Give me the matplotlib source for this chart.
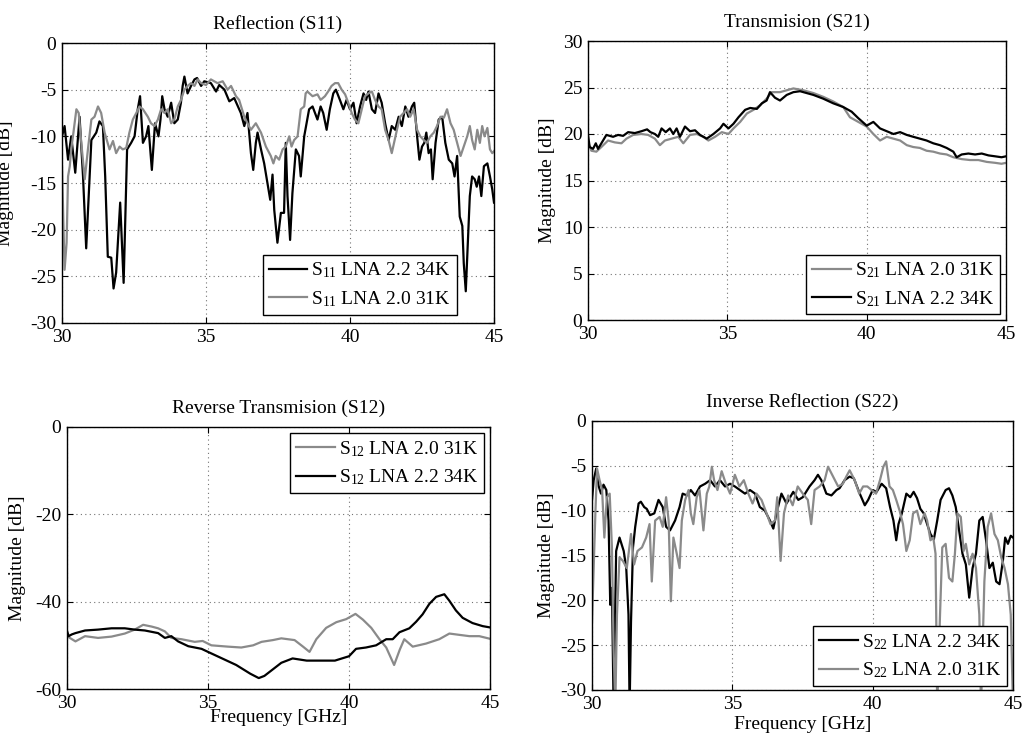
import numpy as np
import matplotlib
matplotlib.use('Agg')
import matplotlib.pyplot as plt

plt.rcParams['font.family'] = 'Liberation Serif'
plt.rcParams['mathtext.fontset'] = 'custom'
plt.rcParams['mathtext.rm'] = 'Liberation Serif'
plt.rcParams['mathtext.it'] = 'Liberation Serif:italic'
plt.rcParams['axes.unicode_minus'] = False
plt.rcParams['font.size'] = 14

# --- S11, LNA 2.2 34K (black) ---
s11_f_22 = [30.00, 30.09, 30.21, 30.32, 30.46, 30.61, 30.73, 30.84, 30.96, 31.02, 31.19, 31.30, 31.42, 31.50,
            31.59, 31.71, 31.79, 31.88, 31.94, 32.02, 32.14, 32.26, 32.40, 32.52, 32.63, 32.71, 32.81, 32.92,
            33.00, 33.12, 33.23, 33.35, 33.42, 33.48, 33.56, 33.67, 33.79, 33.90, 34.02, 34.13, 34.19, 34.25,
            34.36, 34.48, 34.60, 34.69, 34.83, 34.94, 35.17, 35.35, 35.46, 35.64, 35.81, 35.98, 36.21, 36.33,
            36.44, 36.56, 36.64, 36.73, 36.79, 36.91, 37.02, 37.23, 37.31, 37.37, 37.48, 37.60, 37.71, 37.77,
            37.83, 37.92, 38.00, 38.12, 38.23, 38.29, 38.41, 38.58, 38.70, 38.87, 38.98, 39.07, 39.19, 39.30,
            39.42, 39.51, 39.65, 39.77, 39.88, 40.00, 40.12, 40.23, 40.35, 40.47, 40.56, 40.64, 40.76, 40.87,
            40.99, 41.10, 41.22, 41.34, 41.45, 41.57, 41.69, 41.80, 41.92, 42.03, 42.15, 42.23, 42.33, 42.41,
            42.50, 42.58, 42.65, 42.73, 42.81, 42.87, 42.97, 43.08, 43.20, 43.31, 43.43, 43.55, 43.63, 43.72,
            43.81, 43.90, 43.95, 44.02, 44.09, 44.16, 44.24, 44.33, 44.40, 44.48, 44.56, 44.65, 44.77, 44.86,
            44.94, 45.00]
s11_db_22 = [-10.0, -8.9, -12.5, -10.0, -13.9, -7.9, -14.3, -22.0, -14.3, -10.4, -9.6, -8.4, -8.9, -14.3,
             -22.9, -23.0, -26.3, -24.6, -21.4, -17.1, -25.7, -11.4, -10.7, -10.0, -7.1, -5.7, -10.7, -10.0,
             -8.9, -13.6, -8.6, -10.0, -8.2, -5.7, -7.1, -7.9, -6.4, -8.6, -8.2, -6.4, -4.6, -3.6,
             -5.4, -4.6, -3.9, -3.75, -4.6, -4.1, -4.3, -5.2, -4.5, -5.0, -6.25, -5.9, -7.5, -8.9,
             -7.5, -11.8, -13.6, -10.7, -9.6, -11.4, -12.9, -16.8, -14.1, -17.9, -21.4, -18.2, -18.2, -10.7,
             -16.4, -21.1, -16.1, -11.4, -12.1, -14.3, -10.0, -7.1, -6.8, -8.2, -6.8, -7.5, -9.3, -7.1,
             -5.4, -5.0, -6.1, -7.1, -6.1, -7.1, -6.4, -8.6, -6.8, -5.4, -6.1, -5.2, -7.1, -7.5,
             -5.4, -6.4, -8.6, -10.4, -8.9, -9.3, -7.9, -8.9, -6.8, -7.9, -6.8, -6.4, -10.0, -12.5,
             -11.1, -10.7, -9.6, -11.8, -11.4, -14.6, -10.7, -8.2, -7.9, -10.7, -12.5, -12.9, -14.3, -12.1,
             -18.6, -19.6, -23.6, -26.6, -21.4, -16.4, -14.3, -14.6, -15.4, -14.3, -16.4, -13.2, -12.9, -14.3,
             -15.7, -17.1]

# --- S11, LNA 2.0 31K (gray) ---
s11_f_20 = [30.00, 30.09, 30.16, 30.21, 30.27, 30.32, 30.38, 30.50, 30.58, 30.67, 30.79, 30.90, 31.02, 31.13,
            31.25, 31.36, 31.48, 31.65, 31.77, 31.88, 32.00, 32.11, 32.23, 32.34, 32.46, 32.58, 32.69, 32.81,
            32.98, 33.09, 33.21, 33.33, 33.44, 33.56, 33.67, 33.79, 33.90, 34.02, 34.13, 34.25, 34.36, 34.48,
            34.60, 34.71, 34.83, 35.00, 35.17, 35.40, 35.58, 35.75, 35.87, 36.04, 36.15, 36.33, 36.44, 36.56,
            36.73, 36.91, 37.08, 37.25, 37.34, 37.42, 37.54, 37.66, 37.77, 37.89, 37.97, 38.06, 38.18, 38.29,
            38.41, 38.46, 38.52, 38.70, 38.87, 38.98, 39.13, 39.24, 39.36, 39.48, 39.59, 39.71, 39.83, 39.94,
            40.06, 40.17, 40.29, 40.41, 40.52, 40.64, 40.76, 40.87, 40.99, 41.10, 41.22, 41.34, 41.45, 41.53,
            41.63, 41.74, 41.86, 41.98, 42.09, 42.21, 42.33, 42.44, 42.56, 42.67, 42.79, 42.91, 43.02, 43.14,
            43.26, 43.37, 43.49, 43.60, 43.72, 43.84, 43.95, 44.07, 44.16, 44.24, 44.33, 44.42, 44.51, 44.59,
            44.67, 44.77, 44.86, 44.94, 45.00]
s11_db_20 = [-13.2, -24.3, -21.4, -14.3, -13.2, -11.4, -10.0, -7.1, -7.5, -10.7, -14.6, -11.4, -8.2, -7.9,
             -6.8, -7.5, -9.6, -11.4, -10.5, -11.8, -11.1, -11.4, -11.25, -9.6, -8.2, -7.5, -6.8, -7.1,
             -7.9, -8.6, -8.9, -8.2, -7.1, -7.5, -7.1, -8.6, -8.2, -6.8, -6.1, -5.0, -4.6, -4.3,
             -4.6, -3.9, -4.3, -4.5, -3.9, -4.3, -4.1, -5.0, -4.6, -5.7, -6.1, -7.9, -8.6, -9.3,
             -8.6, -9.6, -11.1, -12.1, -12.9, -12.1, -12.5, -11.4, -11.1, -10.0, -11.1, -10.4, -10.0, -7.1,
             -6.8, -5.4, -5.2, -5.7, -5.5, -6.1, -5.7, -5.2, -4.6, -4.3, -4.3, -5.0, -5.5, -6.4,
             -7.5, -8.2, -8.6, -7.1, -5.7, -5.4, -5.2, -6.1, -6.8, -7.1, -9.3, -10.4, -11.8, -10.7,
             -9.3, -7.9, -7.5, -7.1, -7.9, -7.1, -9.3, -10.0, -10.4, -10.7, -10.0, -9.6, -8.9, -7.9,
             -8.0, -7.1, -8.6, -9.3, -10.7, -12.1, -11.1, -10.0, -8.9, -10.4, -11.4, -9.3, -10.7, -8.9,
             -10.0, -9.1, -11.4, -11.8, -11.6]

# --- S21, LNA 2.2 34K (black) ---
s21_f_22 = [30.00, 30.06, 30.18, 30.28, 30.36, 30.48, 30.66, 30.90, 31.08, 31.26, 31.44, 31.68, 31.92, 32.12,
            32.24, 32.40, 32.52, 32.64, 32.79, 32.94, 33.06, 33.18, 33.30, 33.48, 33.66, 33.84, 34.02, 34.26,
            34.50, 34.74, 34.86, 35.04, 35.22, 35.40, 35.64, 35.82, 36.06, 36.24, 36.41, 36.53, 36.71, 36.89,
            37.13, 37.37, 37.61, 37.73, 38.09, 38.44, 38.80, 39.16, 39.46, 39.70, 40.00, 40.24, 40.48, 40.72,
            40.96, 41.20, 41.44, 41.67, 41.91, 42.15, 42.39, 42.63, 42.87, 43.11, 43.23, 43.41, 43.65, 43.89,
            44.13, 44.37, 44.61, 44.84, 45.00]
s21_db_22 = [19.9, 18.6, 18.4, 19.0, 18.4, 19.0, 19.9, 19.7, 19.9, 19.8, 20.2, 20.1, 20.3, 20.5,
             20.2, 20.0, 19.7, 20.6, 20.2, 20.6, 20.0, 20.6, 19.7, 20.8, 20.3, 20.4, 19.9, 19.5,
             20.0, 20.6, 21.1, 20.6, 21.1, 21.8, 22.6, 22.8, 22.7, 23.3, 23.6, 24.5, 23.9, 23.6,
             24.2, 24.5, 24.6, 24.5, 24.2, 23.8, 23.3, 22.9, 22.4, 21.7, 20.9, 21.3, 20.6, 20.3,
             20.0, 20.2, 19.9, 19.7, 19.5, 19.3, 19.0, 18.8, 18.5, 18.1, 17.5, 17.8, 17.9, 17.8,
             17.9, 17.7, 17.6, 17.5, 17.6]

# --- S21, LNA 2.0 31K (gray) ---
s21_f_20 = [30.00, 30.12, 30.30, 30.48, 30.72, 30.96, 31.20, 31.38, 31.62, 31.92, 32.16, 32.40, 32.58, 32.76,
            33.00, 33.24, 33.42, 33.66, 33.90, 34.14, 34.32, 34.56, 34.80, 35.04, 35.22, 35.46, 35.70, 35.94,
            36.18, 36.41, 36.59, 36.89, 37.13, 37.37, 37.73, 38.09, 38.44, 38.80, 39.16, 39.40, 39.70, 40.00,
            40.24, 40.48, 40.72, 40.96, 41.20, 41.44, 41.67, 41.91, 42.15, 42.39, 42.63, 42.87, 43.11, 43.41,
            43.71, 44.01, 44.31, 44.61, 44.84, 45.00]
s21_db_20 = [19.1, 18.2, 18.1, 18.6, 19.3, 19.1, 19.0, 19.5, 19.9, 20.0, 19.9, 19.5, 18.8, 19.3,
             19.5, 19.7, 19.0, 19.9, 20.0, 19.7, 19.3, 19.7, 20.2, 20.0, 20.6, 21.3, 22.2, 22.6,
             23.1, 23.8, 24.5, 24.5, 24.7, 24.9, 24.7, 24.4, 24.0, 23.5, 22.9, 21.8, 21.3, 20.8,
             20.0, 19.3, 19.7, 19.5, 19.3, 18.8, 18.6, 18.5, 18.2, 18.1, 17.9, 17.8, 17.5, 17.3,
             17.2, 17.2, 17.0, 16.9, 16.8, 16.9]

# --- S12, LNA 2.0 31K (gray) ---
s12_f_20 = [30.00, 30.30, 30.64, 31.10, 31.58, 32.05, 32.40, 32.70, 33.00, 33.23, 33.47, 33.70, 34.06, 34.53,
            34.81, 35.12, 35.71, 36.18, 36.60, 36.90, 37.30, 37.60, 38.07, 38.37, 38.60, 38.84, 39.19, 39.55,
            39.90, 40.23, 40.49, 40.79, 41.08, 41.32, 41.60, 41.80, 41.96, 42.26, 42.73, 43.20, 43.56, 43.91,
            44.27, 44.62, 45.00]
s12_db_20 = [-47.9, -49.1, -47.9, -48.3, -48.0, -47.3, -46.4, -45.3, -45.7, -46.1, -46.8, -48.3, -48.6, -49.2,
             -49.0, -50.0, -50.3, -50.5, -50.0, -49.2, -48.8, -48.4, -48.8, -50.3, -51.5, -48.6, -46.0, -44.7,
             -44.0, -42.8, -44.1, -46.0, -48.6, -50.5, -54.5, -51.0, -48.6, -50.3, -49.6, -48.6, -47.3, -47.6,
             -47.9, -47.9, -48.5]

# --- S12, LNA 2.2 34K (black) ---
s12_f_22 = [30.00, 30.06, 30.17, 30.30, 30.64, 31.10, 31.58, 32.05, 32.40, 32.76, 33.23, 33.47, 33.70, 33.94,
            34.30, 34.77, 35.00, 35.50, 36.00, 36.50, 36.80, 37.00, 37.30, 37.60, 38.00, 38.50, 39.00, 39.50,
            40.00, 40.25, 40.60, 40.96, 41.32, 41.55, 41.79, 42.14, 42.38, 42.61, 42.85, 43.09, 43.38, 43.56,
            43.79, 44.03, 44.38, 44.74, 45.00]
s12_db_22 = [-46.7, -47.9, -47.5, -47.2, -46.6, -46.4, -46.1, -46.1, -46.4, -46.6, -47.2, -48.3, -47.9, -49.1,
             -50.2, -50.8, -51.5, -53.0, -54.5, -56.5, -57.5, -57.0, -55.5, -54.0, -53.0, -53.5, -53.5, -53.5,
             -52.5, -50.8, -50.5, -50.0, -48.6, -48.6, -47.0, -46.1, -44.6, -42.9, -40.5, -38.9, -38.3, -39.8,
             -42.0, -43.7, -44.9, -45.6, -45.9]

# --- S22, LNA 2.2 34K (black) ---
s22_f_22 = [30.00, 30.06, 30.15, 30.24, 30.32, 30.41, 30.51, 30.59, 30.65, 30.71, 30.77, 30.86, 30.98, 31.13,
            31.22, 31.30, 31.34, 31.39, 31.46, 31.54, 31.66, 31.74, 31.86, 31.95, 32.07, 32.22, 32.37, 32.52,
            32.64, 32.78, 32.96, 33.12, 33.23, 33.38, 33.52, 33.67, 33.85, 34.03, 34.21, 34.38, 34.56, 34.74,
            34.92, 35.09, 35.27, 35.45, 35.63, 35.81, 35.98, 36.16, 36.34, 36.46, 36.58, 36.75, 36.93, 37.17,
            37.35, 37.51, 37.75, 37.93, 38.05, 38.17, 38.35, 38.53, 38.71, 38.82, 39.00, 39.18, 39.33, 39.54,
            39.72, 39.84, 40.00, 40.14, 40.32, 40.48, 40.62, 40.74, 40.84, 40.92, 41.04, 41.20, 41.34, 41.46,
            41.58, 41.70, 41.82, 41.94, 42.06, 42.18, 42.30, 42.42, 42.60, 42.72, 42.84, 42.96, 43.08, 43.20,
            43.32, 43.44, 43.56, 43.68, 43.80, 43.92, 44.04, 44.16, 44.28, 44.40, 44.52, 44.64, 44.72, 44.82,
            44.92, 45.00]
s22_db_22 = [-8.8, -6.6, -5.3, -7.3, -8.1, -7.1, -7.7, -11.1, -20.5, -18.6, -32.0, -14.5, -13.0, -14.5,
             -16.4, -21.6, -32.0, -22.4, -14.1, -11.8, -9.2, -9.0, -9.6, -9.8, -10.5, -10.3, -8.8, -9.6,
             -11.8, -12.2, -11.1, -9.6, -8.1, -8.3, -7.7, -8.3, -7.3, -7.0, -6.6, -7.3, -6.6, -7.3,
             -7.0, -7.3, -7.7, -8.1, -7.7, -8.1, -9.6, -10.0, -11.1, -12.0, -10.2, -8.1, -9.2, -7.9,
             -8.8, -8.5, -7.3, -6.6, -6.0, -6.6, -8.1, -8.3, -7.7, -7.5, -6.6, -6.2, -6.4, -8.1,
             -9.4, -8.8, -7.7, -7.9, -7.0, -7.5, -9.6, -11.1, -13.3, -11.5, -10.3, -8.1, -8.5, -7.9,
             -8.6, -9.8, -10.3, -11.5, -12.6, -13.2, -11.1, -8.8, -7.7, -7.5, -8.3, -9.6, -12.2, -14.8,
             -16.0, -19.7, -16.4, -14.8, -11.1, -10.7, -13.3, -16.4, -15.8, -17.9, -18.2, -15.6, -13.0, -13.7,
             -12.8, -13.0]

# --- S22, LNA 2.0 31K (gray) ---
s22_f_20 = [30.00, 30.06, 30.12, 30.18, 30.27, 30.36, 30.44, 30.53, 30.63, 30.71, 30.77, 30.83, 30.89, 30.98,
            31.10, 31.24, 31.39, 31.50, 31.62, 31.78, 31.93, 32.05, 32.13, 32.25, 32.41, 32.52, 32.64, 32.73,
            32.81, 32.90, 33.02, 33.12, 33.20, 33.32, 33.44, 33.52, 33.61, 33.73, 33.83, 33.97, 34.09, 34.18,
            34.27, 34.35, 34.47, 34.62, 34.77, 34.92, 35.09, 35.25, 35.41, 35.57, 35.72, 35.86, 36.04, 36.22,
            36.36, 36.52, 36.60, 36.72, 36.84, 36.99, 37.15, 37.33, 37.51, 37.69, 37.81, 37.93, 38.11, 38.29,
            38.41, 38.59, 38.77, 38.94, 39.06, 39.18, 39.36, 39.52, 39.66, 39.81, 39.96, 40.12, 40.26, 40.38,
            40.48, 40.60, 40.72, 40.84, 40.96, 41.08, 41.20, 41.32, 41.44, 41.58, 41.70, 41.85, 41.94, 42.06,
            42.16, 42.24, 42.30, 42.40, 42.48, 42.60, 42.72, 42.84, 42.93, 43.02, 43.14, 43.24, 43.32, 43.44,
            43.56, 43.68, 43.80, 43.86, 43.98, 44.10, 44.22, 44.34, 44.46, 44.58, 44.70, 44.82, 44.92, 45.00]
s22_db_20 = [-22.4, -16.4, -10.3, -5.3, -6.6, -7.7, -13.0, -8.5, -8.1, -14.1, -25.4, -32.0, -21.6, -15.2,
             -15.6, -16.4, -12.6, -16.0, -14.5, -14.1, -13.0, -11.5, -17.9, -11.1, -10.7, -11.8, -8.5, -11.1,
             -20.1, -13.0, -14.8, -16.4, -11.1, -8.8, -7.7, -10.3, -11.5, -8.5, -7.7, -12.2, -8.1, -7.3,
             -5.1, -6.6, -7.7, -5.6, -7.0, -8.1, -6.0, -7.3, -6.6, -8.1, -9.2, -8.1, -8.8, -10.3,
             -11.5, -11.1, -8.5, -15.6, -10.3, -8.3, -9.4, -7.3, -8.1, -8.8, -11.5, -7.7, -7.3, -6.6,
             -5.1, -6.2, -7.3, -7.0, -6.2, -5.5, -6.6, -8.1, -7.3, -7.3, -7.7, -8.1, -6.6, -5.1,
             -4.5, -7.3, -7.7, -8.8, -10.0, -11.5, -14.5, -13.3, -10.3, -10.0, -11.5, -10.3, -11.1, -13.3,
             -13.0, -14.8, -32.0, -21.6, -14.1, -13.7, -17.5, -17.9, -14.8, -10.3, -10.7, -14.5, -13.7, -16.0,
             -14.8, -16.4, -21.6, -32.0, -17.9, -11.8, -10.3, -12.6, -13.3, -15.2, -16.4, -18.2, -21.6, -32.0]

BLACK = 'black'
GRAY = '#8a8a8a'
LW = 1.6

W, H = 1026, 744
fig = plt.figure(figsize=(W / 100, H / 100), dpi=100)


def add_panel(l, t, r, b):
    # axes placed from pixel edges
    return fig.add_axes([l / W, 1 - b / H, (r - l) / W, (b - t) / H])


def style(ax, ylim, yticks, title):
    ax.set_xlim(30, 45)
    ax.set_xticks([30, 35, 40, 45])
    ax.set_ylim(ylim)
    ax.set_yticks(yticks)
    ax.grid(True, color='0.45', linestyle=(0, (1, 3)), linewidth=0.8)
    ax.tick_params(direction='in', top=True, right=True, length=4, width=0.8, pad=4)
    for s in ax.spines.values():
        s.set_linewidth(1.0)
    ax.set_title(title, fontsize=14, pad=10)


def legend(ax, loc, anchor):
    leg = ax.legend(loc=loc, bbox_to_anchor=anchor, borderaxespad=0, fancybox=False,
                    framealpha=1, edgecolor='black', handlelength=2.0, handletextpad=0.2,
                    borderpad=0.3, labelspacing=0.45, fontsize=14)
    leg.get_frame().set_linewidth(1.0)


# Reflection (S11)
ax1 = add_panel(62, 43, 494, 323)
ax1.plot(s11_f_22, s11_db_22, color=BLACK, lw=LW, label=r'S$_{11}$ LNA 2.2 34K')
ax1.plot(s11_f_20, s11_db_20, color=GRAY, lw=LW, label=r'S$_{11}$ LNA 2.0 31K')
style(ax1, (-30, 0), [-30, -25, -20, -15, -10, -5, 0], 'Reflection (S11)')
ax1.set_ylabel('Magnitude [dB]')
ax1.yaxis.set_label_coords(-0.111, 0.5)
legend(ax1, 'lower right', (0.914, 0.03))

# Transmision (S21)
ax2 = add_panel(588, 41, 1006, 320)
ax2.plot(s21_f_20, s21_db_20, color=GRAY, lw=LW, label=r'S$_{21}$ LNA 2.0 31K')
ax2.plot(s21_f_22, s21_db_22, color=BLACK, lw=LW, label=r'S$_{21}$ LNA 2.2 34K')
style(ax2, (0, 30), [0, 5, 10, 15, 20, 25, 30], 'Transmision (S21)')
ax2.set_ylabel('Magnitude [dB]')
ax2.yaxis.set_label_coords(-0.077, 0.5)
legend(ax2, 'lower right', (0.986, 0.02))

# Reverse Transmision (S12)
ax3 = add_panel(67, 427, 490, 689)
ax3.plot(s12_f_20, s12_db_20, color=GRAY, lw=LW, label=r'S$_{12}$ LNA 2.0 31K')
ax3.plot(s12_f_22, s12_db_22, color=BLACK, lw=LW, label=r'S$_{12}$ LNA 2.2 34K')
style(ax3, (-60, 0), [-60, -40, -20, 0], 'Reverse Transmision (S12)')
ax3.set_ylabel('Magnitude [dB]')
ax3.yaxis.set_label_coords(-0.097, 0.5)
ax3.set_xlabel('Frequency [GHz]')
ax3.xaxis.set_label_coords(0.5, -0.076)
legend(ax3, 'upper right', (0.986, 0.977))

# Inverse Reflection (S22)
ax4 = add_panel(592, 421, 1013, 690)
ax4.plot(s22_f_22, s22_db_22, color=BLACK, lw=LW, label=r'S$_{22}$ LNA 2.2 34K')
ax4.plot(s22_f_20, s22_db_20, color=GRAY, lw=LW, label=r'S$_{22}$ LNA 2.0 31K')
style(ax4, (-30, 0), [-30, -25, -20, -15, -10, -5, 0], 'Inverse Reflection (S22)')
ax4.set_ylabel('Magnitude [dB]')
ax4.yaxis.set_label_coords(-0.088, 0.5)
ax4.set_xlabel('Frequency [GHz]')
ax4.xaxis.set_label_coords(0.5, -0.097)
legend(ax4, 'lower right', (0.986, 0.015))

fig.savefig('out.png', dpi=100)
